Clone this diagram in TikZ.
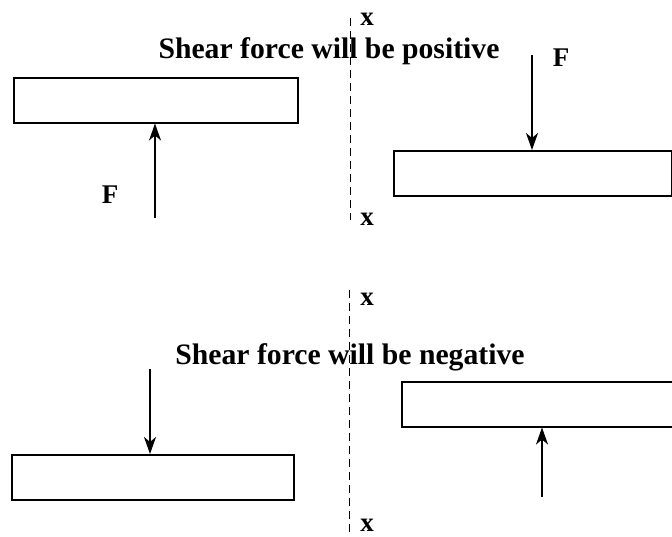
\documentclass[tikz,border=0pt]{standalone}
\usepackage{fontspec}
\setmainfont{Liberation Serif}
\usetikzlibrary{arrows.meta}
\begin{document}
\begin{tikzpicture}[x=1pt,y=-1pt,
  beam/.style={draw,line width=1.5pt,rectangle,minimum height=45pt,inner sep=0pt,anchor=north west},
  arr/.style={line width=1.5pt,-{Stealth[length=17pt,width=12pt,inset=5pt]}},
  cut/.style={line width=1pt,dash pattern=on 8pt off 5pt},
  lbl/.style={font=\bfseries\fontsize{29.7}{31}\selectfont,inner sep=0pt},
  xl/.style={font=\bfseries\fontsize{27}{29}\selectfont,inner sep=0pt}]
\useasboundingbox (0,0) rectangle (672,536);
\clip (0,0) rectangle (672,536);
% top
\node[beam,minimum width=284pt] (b1) at (13,77) {};
\node[beam,minimum width=278pt] (b2) at (393,150) {};
\coordinate (t1) at (155,218);
\coordinate (t2) at (532,55);
\draw[arr] (t1) -- (t1 |- b1.south);
\draw[arr] (t2) -- (t2 |- b2.north);
\node[xl] (f1) at (110,195) {F};
\node[xl] (f2) at (561,58) {F};
\node[lbl] (p) at (329,51) {Shear force will be positive};
\coordinate (c1a) at (350,18);
\coordinate (c1b) at (350,220);
\draw[cut] (c1a) -- (c1b);
\node[xl] (x1) at (367,19) {x};
\node[xl] (x2) at (367,219) {x};
% bottom
\node[beam,minimum width=282pt] (b3) at (11,454) {};
\node[beam,minimum width=290pt] (b4) at (401,381) {};
\coordinate (t3) at (150,369);
\coordinate (t4) at (542,497);
\draw[arr] (t3) -- (t3 |- b3.north);
\draw[arr] (t4) -- (t4 |- b4.south);
\node[lbl] (n) at (350,357) {Shear force will be negative};
\coordinate (c2a) at (349,290);
\coordinate (c2b) at (349,536);
\draw[cut] (c2a) -- (c2b);
\node[xl] (x3) at (367,299) {x};
\node[xl] (x4) at (367,525) {x};
\end{tikzpicture}
\end{document}
